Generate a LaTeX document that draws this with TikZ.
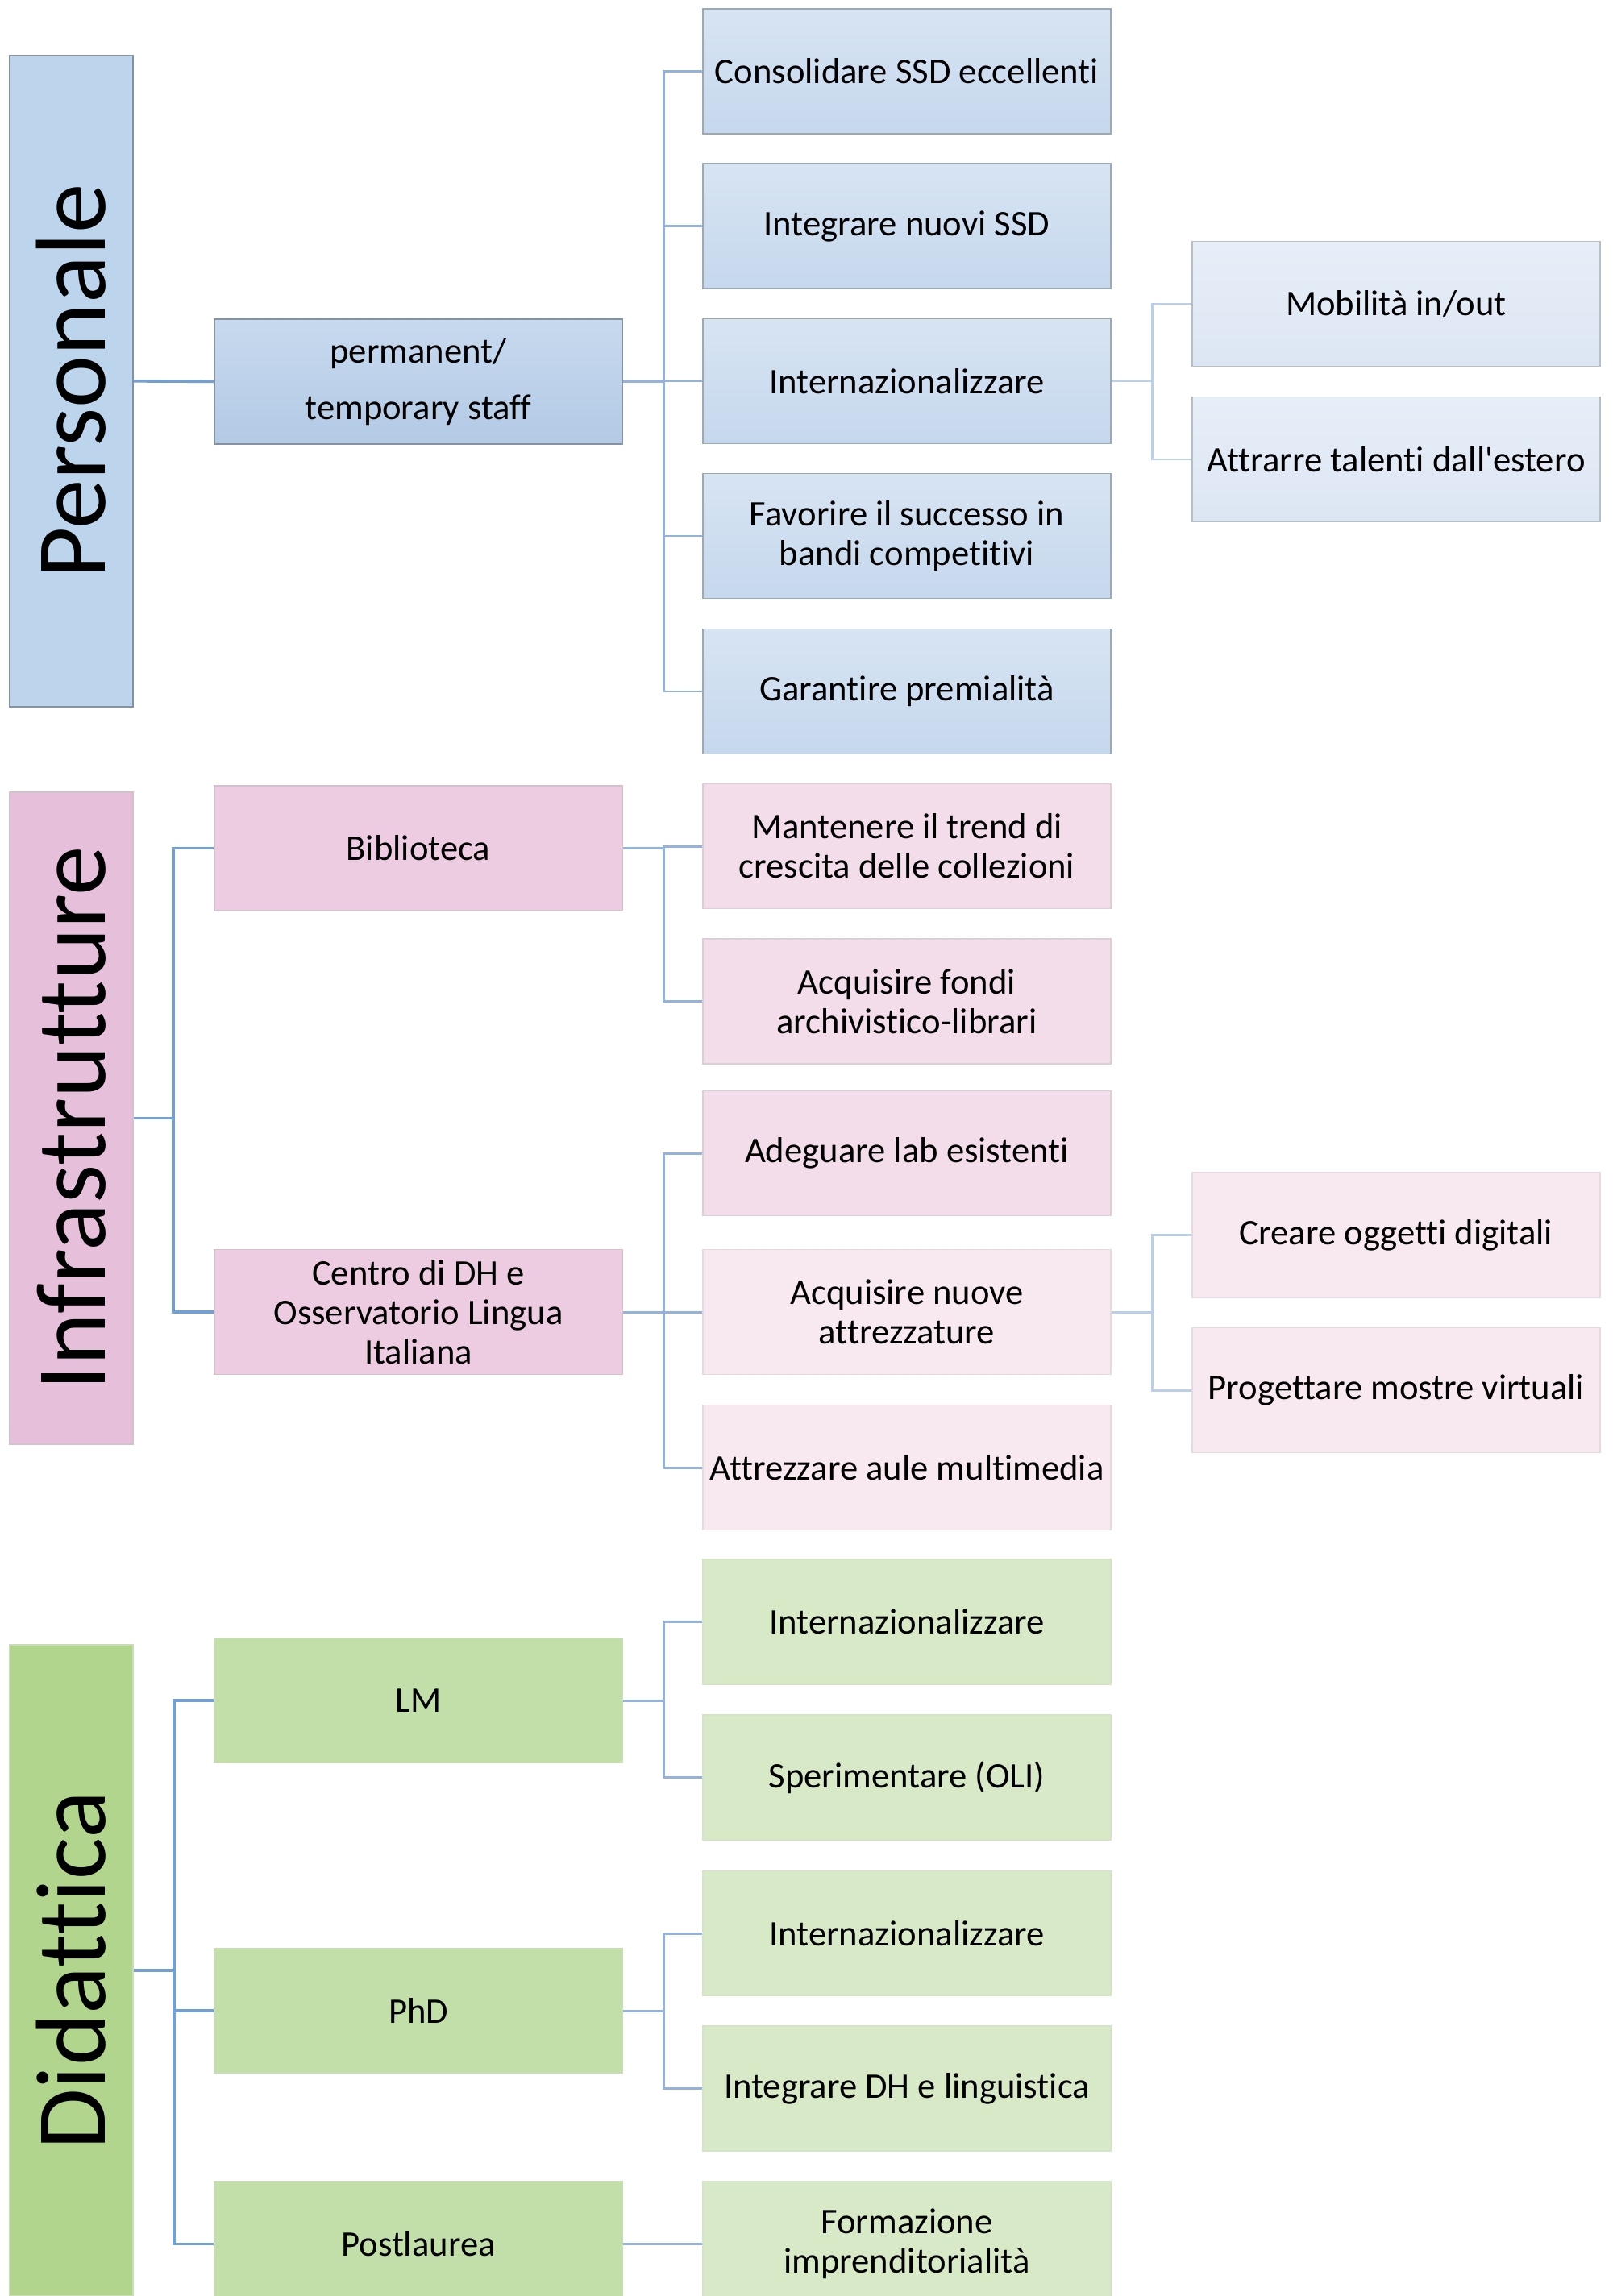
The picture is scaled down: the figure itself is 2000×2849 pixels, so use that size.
\documentclass[tikz,border=0pt]{standalone}
\usepackage{fontspec}
\setmainfont{Carlito}[Ligatures={ResetAll,NoCommon}, RawFeature={-liga;-clig}]
\usepackage{xcolor}

\definecolor{persBlue}{HTML}{BDD5EC}
\definecolor{staffTop}{HTML}{C7D9EE}
\definecolor{staffBot}{HTML}{B3CAE5}
\definecolor{goalTop}{HTML}{D7E4F2}
\definecolor{goalBot}{HTML}{C6D8EE}
\definecolor{subTop}{HTML}{E7EEF8}
\definecolor{subBot}{HTML}{DCE6F3}
\definecolor{blueLine}{HTML}{8592A3}
\definecolor{infraPink}{HTML}{E6C0DB}
\definecolor{nodePink}{HTML}{EDCCE1}
\definecolor{goalPink}{HTML}{F3DDEA}
\definecolor{lightPink}{HTML}{F8E8F0}
\definecolor{pinkLine}{HTML}{D3C2CD}
\definecolor{didaGreen}{HTML}{B1D58C}
\definecolor{nodeGreen}{HTML}{C3DFA9}
\definecolor{goalGreen}{HTML}{D7E9C6}
\definecolor{greenLine}{HTML}{CBDDB8}
\definecolor{linkBlue}{HTML}{72A0D6}
\definecolor{midBlue}{HTML}{93B3DD}
\definecolor{subBlue}{HTML}{BCCFEA}

\begin{document}
\begin{tikzpicture}[x=0.01cm, y=-0.01cm,
  every node/.style={font=\fontsize{12.7}{13.9}\selectfont, align=center, inner sep=1pt},
  catbox/.style={rotate=90, minimum width=8.08cm, minimum height=1.53cm, line width=0.5pt, font=\fontsize{35}{40}\selectfont},
  box/.style={minimum width=5.06cm, minimum height=1.55cm, line width=0.5pt},
  staffbox/.style={box, top color=staffTop, bottom color=staffBot, draw=blueLine},
  goalblue/.style={box, top color=goalTop, bottom color=goalBot, draw=blueLine!80},
  subblue/.style={box, top color=subTop, bottom color=subBot, draw=blueLine!60},
  nodepink/.style={box, fill=nodePink, draw=pinkLine},
  goalpink/.style={box, fill=goalPink, draw=pinkLine!80},
  lightpink/.style={box, fill=lightPink, draw=pinkLine!60},
  nodegreen/.style={box, fill=nodeGreen, draw=greenLine},
  goalgreen/.style={box, fill=goalGreen, draw=greenLine!80},
  link/.style={linkBlue, line width=0.95pt},
  midlink/.style={midBlue, line width=0.85pt},
  sublink/.style={subBlue, line width=0.85pt}]

\clip (0,0) rectangle (2000,2849);

% Personale
\node[catbox, fill=persBlue, draw=blueLine] (pers) at (88.5,473) {Personale};

\node[staffbox] (staff) at (519,473.5) {permanent/\\[6.2pt]temporary staff};

\node[goalblue] (consol) at (1125,88.5) {Consolidare SSD eccellenti};
\node[goalblue] (integr) at (1125,280.5) {Integrare nuovi SSD};
\node[goalblue] (intern) at (1125,473) {Internazionalizzare};
\node[goalblue] (favor) at (1125,665) {Favorire il successo in\\bandi competitivi};
\node[goalblue] (garant) at (1125,858) {Garantire premialità};

\node[subblue] (mobil) at (1732,377) {Mobilità in/out};
\node[subblue] (attrar) at (1732,570) {Attrarre talenti dall\textquotesingle estero};

\draw[link] (pers.south) -- (staff.west);

\draw[midlink] (staff.east) -- ++(50,0) |- (consol.west);
\draw[midlink] (staff.east) -- ++(50,0) |- (integr.west);
\draw[midlink] (staff.east) -- ++(50,0) |- (intern.west);
\draw[midlink] (staff.east) -- ++(50,0) |- (favor.west);
\draw[midlink] (staff.east) -- ++(50,0) |- (garant.west);

\draw[sublink] (intern.east) -- ++(50,0) |- (mobil.west);
\draw[sublink] (intern.east) -- ++(50,0) |- (attrar.west);

% Infrastrutture
\node[catbox, fill=infraPink, draw=pinkLine] (infra) at (88.5,1387.5) {Infrastrutture};

\node[nodepink] (bibl) at (519,1052.5) {Biblioteca};
\node[nodepink] (centro) at (519,1628) {Centro di DH e\\Osservatorio Lingua\\Italiana};

\node[goalpink] (mant) at (1125,1050) {Mantenere il trend di\\crescita delle collezioni};
\node[goalpink] (acqfondi) at (1125,1242.5) {Acquisire fondi\\archivistico-librari};
\node[goalpink] (adeg) at (1125,1431) {Adeguare lab esistenti};
\node[lightpink] (acqnuove) at (1125,1628) {Acquisire nuove\\attrezzature};
\node[lightpink] (attrez) at (1125,1821) {Attrezzare aule multimedia};

\node[lightpink] (creare) at (1732,1532.5) {Creare oggetti digitali};
\node[lightpink] (progett) at (1732,1725) {Progettare mostre virtuali};

\draw[link] (infra.south) -- ++(49,0) |- (bibl.west);
\draw[link] (infra.south) -- ++(49,0) |- (centro.west);

\draw[midlink] (bibl.east) -- ++(50,0) |- (mant.west);
\draw[midlink] (bibl.east) -- ++(50,0) |- (acqfondi.west);

\draw[midlink] (centro.east) -- ++(50,0) |- (adeg.west);
\draw[midlink] (centro.east) -- ++(50,0) |- (acqnuove.west);
\draw[midlink] (centro.east) -- ++(50,0) |- (attrez.west);

\draw[sublink] (acqnuove.east) -- ++(50,0) |- (creare.west);
\draw[sublink] (acqnuove.east) -- ++(50,0) |- (progett.west);

% Didattica
\node[catbox, fill=didaGreen, draw=greenLine] (dida) at (88.5,2445) {Didattica};

\node[nodegreen] (lm) at (519,2110) {LM};
\node[nodegreen] (phd) at (519,2495) {PhD};
\node[nodegreen] (postl) at (519,2784.5) {Postlaurea};

\node[goalgreen] (lmint) at (1125,2012.5) {Internazionalizzare};
\node[goalgreen] (sperim) at (1125,2205.5) {Sperimentare (OLI)};
\node[goalgreen] (phdint) at (1125,2399) {Internazionalizzare};
\node[goalgreen] (integdh) at (1125,2591.5) {Integrare DH e linguistica};
\node[goalgreen] (formaz) at (1125,2784.5) {Formazione\\imprenditorialità};

\draw[link] (dida.south) -- ++(50,0) |- (lm.west);
\draw[link] (dida.south) -- ++(50,0) |- (phd.west);
\draw[link] (dida.south) -- ++(50,0) |- (postl.west);

\draw[midlink] (lm.east) -- ++(50,0) |- (lmint.west);
\draw[midlink] (lm.east) -- ++(50,0) |- (sperim.west);

\draw[midlink] (phd.east) -- ++(50,0) |- (phdint.west);
\draw[midlink] (phd.east) -- ++(50,0) |- (integdh.west);

\draw[midlink] (postl.east) -- (formaz.west);

\end{tikzpicture}
\end{document}
